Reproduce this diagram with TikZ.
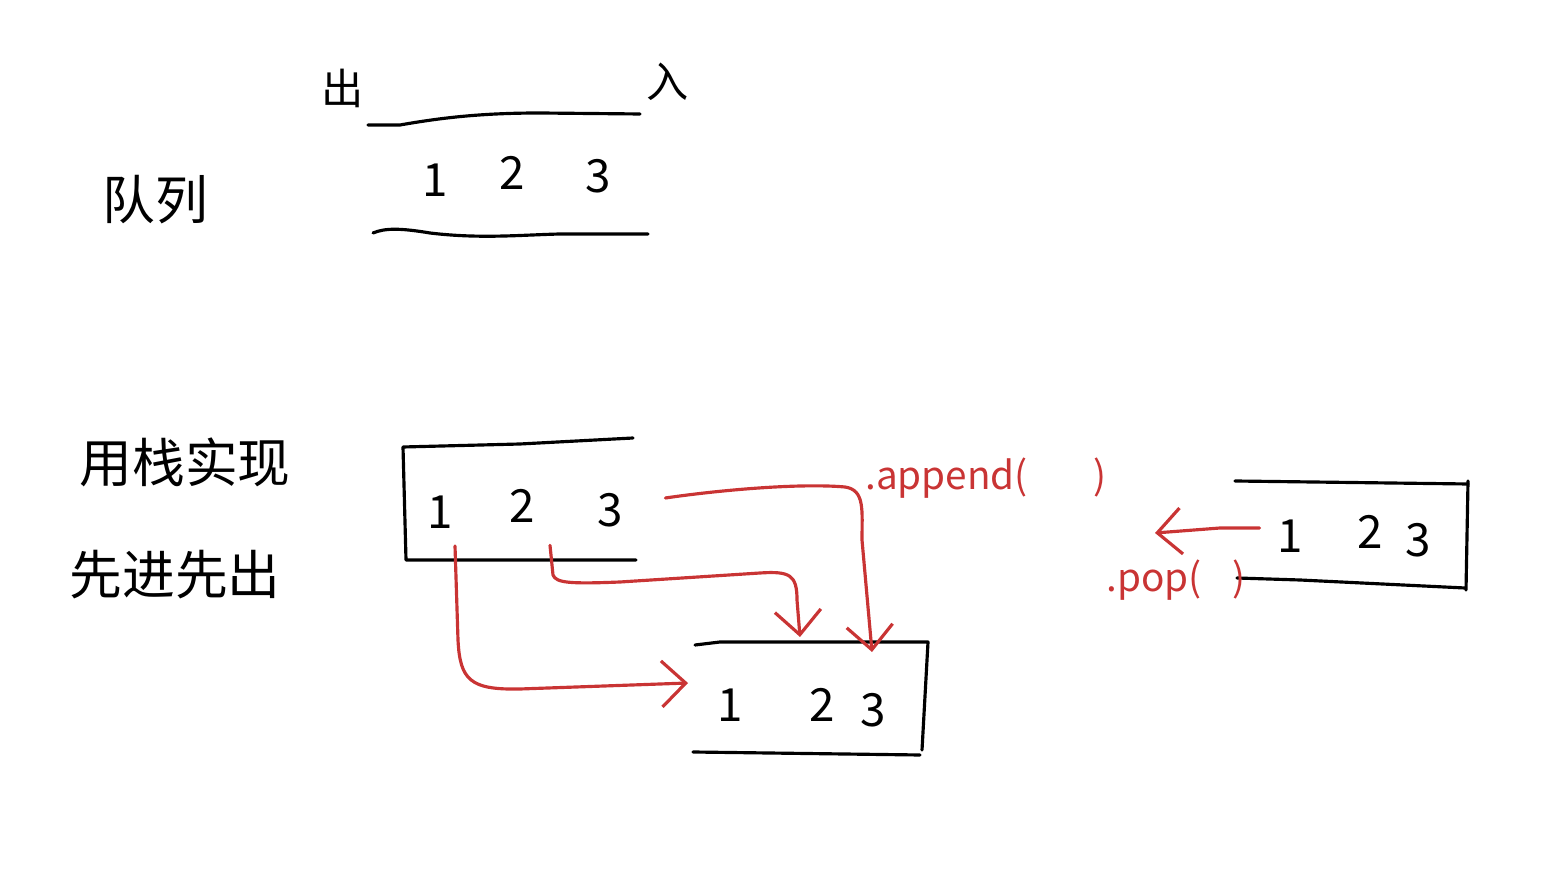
\documentclass[tikz,border=0pt]{standalone}
\usepackage{fontspec}
\newfontfamily\cjk{Noto Sans CJK SC}
\usetikzlibrary{arrows.meta}
\definecolor{penred}{RGB}{201,52,52}

\begin{document}
\begin{tikzpicture}[
  x=0.01cm,y=-0.01cm,>={Straight Barb[length=2.4mm,width=4.6mm]},
  word/.style={font=\cjk\fontsize{15}{17}\selectfont,inner sep=1pt},
  endword/.style={font=\cjk\fontsize{12}{14}\selectfont,inner sep=1pt},
  digit/.style={font=\cjk\fontsize{13}{15}\selectfont,inner sep=2pt},
  call/.style={text=penred,font=\cjk\fontsize{11}{13}\selectfont,inner sep=1pt},
  edge/.style={line width=0.9pt,line cap=round,line join=round},
  move/.style={edge,draw=penred,->}
]
\useasboundingbox (0,0) rectangle (1549,886);

% queue
\node[endword] (out) at (343,88) {出};
\node[endword] (in)  at (668,82) {入};
\node[word] (queue) at (155,200) {队列};
\node[digit] (q1) at (435,180) {1};
\node[digit] (q2) at (512,173) {2};
\node[digit] (q3) at (598,176) {3};
\draw[edge] (368,125) -- (400,125) .. controls (440,118) and (480,113) .. (540,113) -- (640,114);
\draw[edge] (373,233) .. controls (385,228) and (400,228) .. (430,233) .. controls (480,239) and (520,235) .. (560,234) -- (648,234);

% two stacks
\node[word] (title) at (185,462) {用栈实现};
\node[word] (fifo)  at (175,575) {先进先出};

% stack one
\draw[edge] (633,438) -- (520,444) -- (403,447) -- (406,560) -- (636,560);
\node[digit] (s1n1) at (440,512) {1};
\node[digit] (s1n2) at (522,506) {2};
\node[digit] (s1n3) at (610,510) {3};

% stack two
\draw[edge] (695,645) -- (720,642) -- (928,642) -- (922,750);
\draw[edge] (693,752) -- (920,755);
\node[digit] (s2n1) at (730,705) {1};
\node[digit] (s2n2) at (822,705) {2};
\node[digit] (s2n3) at (873,710) {3};
\coordinate (drop2) at (800,637);
\coordinate (drop3) at (872,652);

% stack three
\draw[edge] (1235,481) -- (1468,484);
\draw[edge] (1468,481) -- (1466,590);
\draw[edge] (1237,578) -- (1300,580) -- (1465,588);
\node[digit] (s3n1) at (1290,536) {1};
\node[digit] (s3n2) at (1370,532) {2};
\node[digit] (s3n3) at (1418,540) {3};
\coordinate (gone) at (1155,533);

% moves
\node[call] (append) at (986,478) {.append(\hspace{1.7em})};
\node[call] (pop)    at (1176,580) {.pop(\hspace{0.8em})};
\draw[move] (s1n3.east) ++(35,-12) .. controls (720,490) and (800,483) .. (845,487)
  .. controls (865,490) and (862,510) .. (862,540) -- (drop3);
\draw[move] (s1n2.south) ++(28,15) -- (553,575) .. controls (556,583) and (570,584) .. (620,582)
  -- (760,573) .. controls (790,571) and (797,575) .. (797,600) -- (drop2);
\draw[move] (s1n1.south) ++(15,10) -- (458,640) .. controls (460,680) and (470,690) .. (520,689)
  -- (688,683);
\draw[move] (s3n1.west) ++(-10,-8) -- (1220,528) -- (gone);
\end{tikzpicture}
\end{document}
